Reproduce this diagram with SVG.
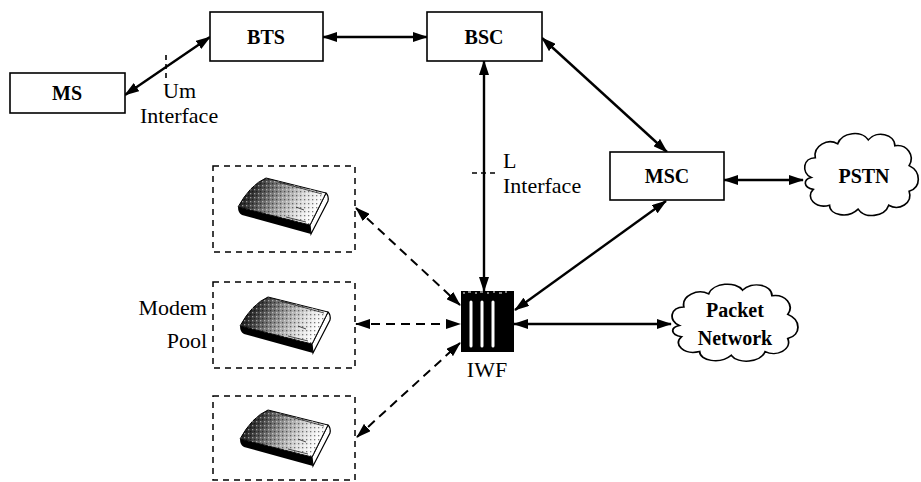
<svg xmlns="http://www.w3.org/2000/svg" width="921" height="482" viewBox="0 0 921 482" font-family="Liberation Serif, Times New Roman, serif">
  <style>
    .box { fill: #fff; stroke: #000; stroke-width: 1.6; }
    .pool { fill: none; stroke: #000; stroke-width: 1.5; stroke-dasharray: 6 5; }
    .cloud { fill: #fff; stroke: #000; stroke-width: 1.6; }
    .link { fill: none; stroke: #000; stroke-width: 2.4; marker-start: url(#head); marker-end: url(#head); }
    .dashed { stroke-dasharray: 9 6; stroke-width: 2; }
    .tick { fill: none; stroke: #000; stroke-width: 1.6; stroke-dasharray: 5 4; }
    .lbl { font-size: 20px; font-weight: bold; text-anchor: middle; fill: #000; }
    .txt { font-size: 22px; fill: #000; }
  </style>
  <defs>
    <marker id="head" viewBox="0 0 15 10" refX="14" refY="5" markerWidth="15" markerHeight="10" markerUnits="userSpaceOnUse" orient="auto-start-reverse">
      <path d="M0,0 L15,5 L0,10 Z" fill="#000"/>
    </marker>
    <linearGradient id="slab" x1="0" y1="0" x2="1" y2="0.3">
      <stop offset="0" stop-color="#000"/>
      <stop offset="0.25" stop-color="#333"/>
      <stop offset="0.55" stop-color="#999"/>
      <stop offset="0.8" stop-color="#ddd"/>
      <stop offset="1" stop-color="#fff"/>
    </linearGradient>
    <pattern id="grain" width="4" height="4" patternUnits="userSpaceOnUse">
      <rect x="0" y="0" width="1.3" height="1.3" fill="#fff"/>
      <rect x="2" y="2" width="1.3" height="1.3" fill="#000"/>
    </pattern>
    <path id="cloudShape" d="M10,50 C0,45 2,30 14,30 C12,18 26,10 36,16 C40,4 60,2 66,12 C74,2 92,6 92,18 C104,16 112,28 106,38 C118,44 118,60 106,64 C110,76 96,84 86,78 C82,90 62,92 56,82 C46,92 28,88 28,78 C14,82 4,70 12,62 C2,60 2,52 10,50 Z"/>
    <!-- desktop modem drawn in its own 90x58 frame -->
    <g id="modem">
      <path d="M0,30 Q0,36 4,38 L73,57 L72,48 Z" fill="#000"/>
      <path d="M72,48 L88,16 Q91,19 90,24 L73,57 Z" fill="#fff" stroke="#000" stroke-width="1.2"/>
      <path d="M0,30 Q12,8 28,1 L88,16 L72,48 Z" fill="url(#slab)" stroke="#000" stroke-width="1"/>
      <path d="M0,30 Q12,8 28,1 L88,16 L72,48 Z" fill="url(#grain)" opacity="0.5"/>
      <path d="M40,5 L84,17 M48,40 L68,45 M58,30 L66,33" stroke="#222" stroke-width="0.8" fill="none"/>
    </g>
  </defs>

  <!-- connectors -->
  <g id="connectors">
    <line class="link" x1="125" y1="95" x2="210" y2="37"/>
    <line class="link" x1="323" y1="37" x2="427" y2="37"/>
    <line class="link" x1="542" y1="38" x2="667" y2="152"/>
    <line class="link" x1="724" y1="180" x2="803" y2="180"/>
    <line class="link" x1="484" y1="61" x2="484" y2="291"/>
    <line class="link" x1="666" y1="201" x2="515" y2="310"/>
    <line class="link" x1="514" y1="324" x2="671" y2="324"/>
    <line class="link dashed" x1="356" y1="208" x2="460" y2="305"/>
    <line class="link dashed" x1="356" y1="324" x2="460" y2="324"/>
    <line class="link dashed" x1="357" y1="437" x2="460" y2="343"/>
    <!-- interface markers -->
    <line class="tick" x1="166" y1="55" x2="166" y2="81"/>
    <line class="tick" x1="472" y1="173" x2="499" y2="173"/>
  </g>

  <!-- interface labels -->
  <g id="um-interface">
    <text class="txt" x="163" y="98">Um</text>
    <text class="txt" x="140" y="123">Interface</text>
  </g>
  <g id="l-interface">
    <text class="txt" x="503" y="168">L</text>
    <text class="txt" x="503" y="193">Interface</text>
  </g>

  <g id="ms">
    <rect class="box" x="10" y="73" width="115" height="40"/>
    <text class="lbl" x="67" y="100">MS</text>
  </g>
  <g id="bts">
    <rect class="box" x="210" y="12" width="113" height="49"/>
    <text class="lbl" x="266" y="44">BTS</text>
  </g>
  <g id="bsc">
    <rect class="box" x="427" y="12" width="115" height="49"/>
    <text class="lbl" x="484" y="44">BSC</text>
  </g>
  <g id="msc">
    <rect class="box" x="610" y="152" width="114" height="48"/>
    <text class="lbl" x="667" y="183">MSC</text>
  </g>
  <g id="pstn">
    <use href="#cloudShape" class="cloud" transform="translate(801,128) scale(1.02,0.99)"/>
    <text class="lbl" x="864" y="183">PSTN</text>
  </g>
  <g id="packet-network">
    <use href="#cloudShape" class="cloud" transform="translate(668,279) scale(1.13,0.93)"/>
    <text class="lbl" x="735" y="317">Packet</text>
    <text class="lbl" x="735" y="345">Network</text>
  </g>

  <g id="iwf">
    <rect x="461" y="291" width="53" height="61" fill="#000"/>
    <path d="M463,293 h2 M468,292 h3 M475,293 h2 M480,292 h3 M487,293 h2 M493,292 h2 M499,293 h3 M505,292 h2" stroke="#fff" stroke-width="1"/>
    <line x1="471" y1="302" x2="471" y2="346" stroke="#fff" stroke-width="3" stroke-linecap="round"/>
    <line x1="482" y1="302" x2="482" y2="346" stroke="#fff" stroke-width="3" stroke-linecap="round"/>
    <line x1="493" y1="302" x2="493" y2="346" stroke="#fff" stroke-width="3" stroke-linecap="round"/>
    <text class="txt" x="487" y="377" text-anchor="middle">IWF</text>
  </g>

  <g id="modem-pool">
    <text class="txt" x="207" y="315" text-anchor="end">Modem</text>
    <text class="txt" x="207" y="348" text-anchor="end">Pool</text>
  </g>
  <g id="modem-1">
    <rect class="pool" x="213" y="166" width="142" height="86"/>
    <use href="#modem" transform="translate(238,177)"/>
  </g>
  <g id="modem-2">
    <rect class="pool" x="213" y="282" width="142" height="86"/>
    <use href="#modem" transform="translate(240,296)"/>
  </g>
  <g id="modem-3">
    <rect class="pool" x="213" y="396" width="142" height="84"/>
    <use href="#modem" transform="translate(240,409)"/>
  </g>
</svg>
